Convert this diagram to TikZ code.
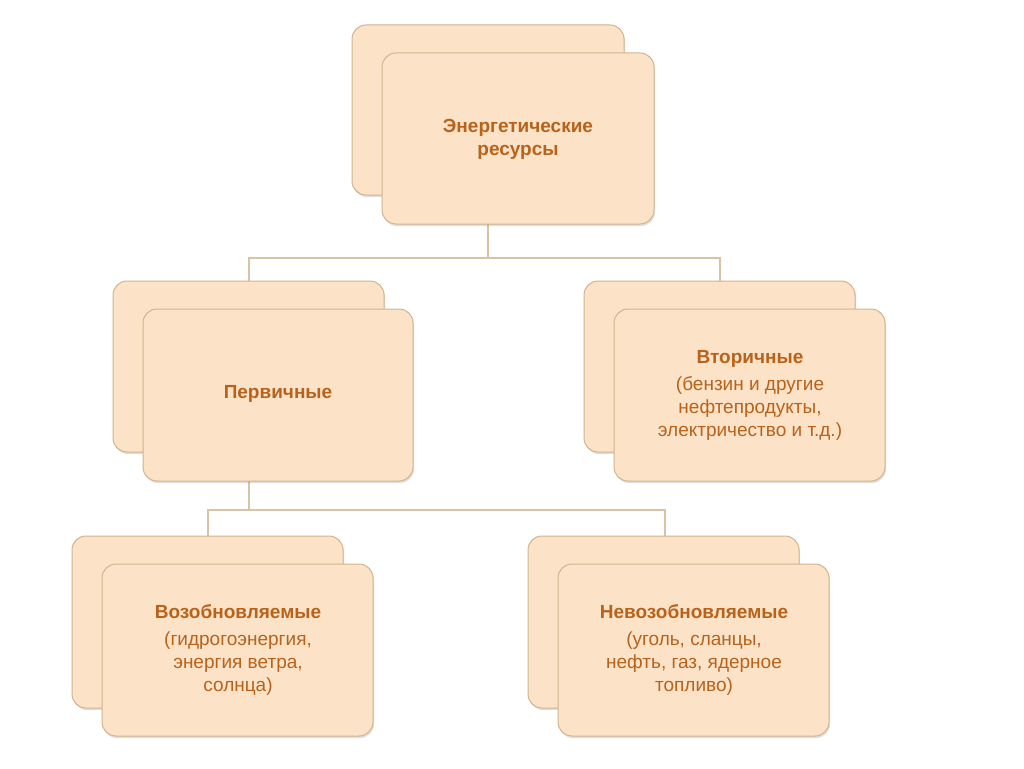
\documentclass[tikz,border=0pt]{standalone}
\usepackage{fontspec}
\setmainfont{Liberation Sans}
\usetikzlibrary{shadows}
\definecolor{boxfill}{HTML}{FCE3C8}
\definecolor{boxline}{HTML}{D2B48C}
\definecolor{txt}{HTML}{B8621B}
\definecolor{conn}{HTML}{D9C3A5}
\tikzset{
  back/.style={draw=boxline,fill=boxfill,rounded corners=14pt,line width=1pt,drop shadow={shadow xshift=1pt,shadow yshift=-2pt,opacity=0.25}},
  card/.style={draw=boxline,fill=boxfill,rounded corners=14pt,line width=1pt,drop shadow={shadow xshift=1pt,shadow yshift=-2pt,opacity=0.25}},
  lbl/.style={text=txt,align=center,font=\fontsize{19}{23}\selectfont},
  conline/.style={draw=conn,line width=1.2pt}
}
\begin{document}
\begin{tikzpicture}[x=1pt,y=-1pt]
\useasboundingbox (0,0) rectangle (1024,768);
\fill[white] (0,0) rectangle (1024,768);
% connectors
\coordinate (c1) at (488,258);
\draw[conline] (488,224) -- (c1) (249,281) -- (249,258) -- (720,258) -- (720,281);
\draw[conline] (249,481) -- (249,510) (208,536) -- (208,510) -- (665,510) -- (665,536);
% top
\draw[back] (352,25) rectangle (624,195);
\draw[card] (382,53) rectangle (654,224);
\node[lbl] (top) at (518,139) {\textbf{Энергетические}\\\textbf{ресурсы}};
% mid left
\draw[back] (113,281) rectangle (384,452);
\draw[card] (143,309) rectangle (413,481);
\node[lbl] (prim) at (278,394) {\textbf{Первичные}};
% mid right
\draw[back] (584,281) rectangle (855,452);
\draw[card] (614,309) rectangle (885,481);
\node[lbl] (sec) at (750,395) {\textbf{Вторичные}\\[4pt](бензин и другие\\нефтепродукты,\\электричество и т.д.)};
% bottom left
\draw[back] (72,536) rectangle (343,708);
\draw[card] (102,564) rectangle (373,736);
\node[lbl] (ren) at (238,650) {\textbf{Возобновляемые}\\[4pt](гидрогоэнергия,\\энергия ветра,\\солнца)};
% bottom right
\draw[back] (528,536) rectangle (799,708);
\draw[card] (558,564) rectangle (829,736);
\node[lbl] (non) at (694,650) {\textbf{Невозобновляемые}\\[4pt](уголь, сланцы,\\нефть, газ, ядерное\\топливо)};
\end{tikzpicture}
\end{document}
